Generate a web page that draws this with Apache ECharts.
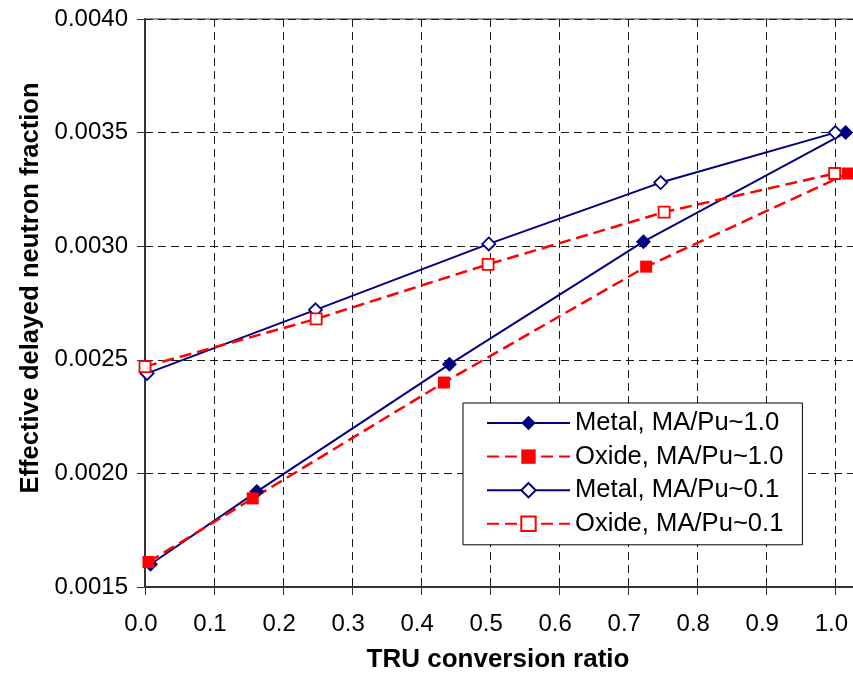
<!DOCTYPE html>
<html>
<head>
<meta charset="utf-8">
<script src="https://cdn.jsdelivr.net/npm/echarts@6/dist/echarts.min.js"></script>
<style>
html,body{margin:0;padding:0;background:#fff;}
#chart{width:853px;height:678px;}
</style>
</head>
<body>
<div id="chart"></div>
<script>
// Data
const seriesNames = ['Metal, MA/Pu~1.0', 'Oxide, MA/Pu~1.0', 'Metal, MA/Pu~0.1', 'Oxide, MA/Pu~0.1'];
const metalHigh = [[0.008, 0.00160], [0.162, 0.00192], [0.441, 0.00248], [0.722, 0.00302], [1.015, 0.00350]];
const oxideHigh = [[0.005, 0.00161], [0.156, 0.00189], [0.433, 0.00240], [0.726, 0.00291], [1.018, 0.00332]];
const metalLow  = [[0.003, 0.00244], [0.247, 0.00272], [0.498, 0.00301], [0.747, 0.00328], [1.000, 0.00350]];
const oxideLow  = [[0.000, 0.00247], [0.248, 0.00268], [0.497, 0.00292], [0.752, 0.00315], [0.999, 0.00332]];
const xTickLabels = ['0.0','0.1','0.2','0.3','0.4','0.5','0.6','0.7','0.8','0.9','1.0'];
const yTickLabels = ['0.0015','0.0020','0.0025','0.0030','0.0035','0.0040'];

const NAVY = '#000080', RED = '#FF0000';
const regFont = "'Liberation Sans', Arial, sans-serif";
const boldFont = "'Liberation Sans', Arial, sans-serif";

const chart = echarts.init(document.getElementById('chart'), null, {renderer: 'canvas'});

function mkSeries(name, data, color, symbol, filled, dashed, size) {
  return {
    name: name, type: 'line', data: data,
    symbol: symbol, symbolSize: size, showAllSymbol: true,
    lineStyle: {color: color, width: dashed ? 2.5 : 2, type: dashed ? [12, 6] : 'solid'},
    itemStyle: {color: filled ? color : '#fff', borderColor: color, borderWidth: filled ? 0 : 1.8},
    emphasis: {disabled: true},
    z: 3
  };
}

const gridLine = {show: true, lineStyle: {color: '#1a1a1a', width: 1, type: [8, 5]}};

chart.setOption({
  animation: false,
  backgroundColor: '#fff',
  grid: {left: 145, top: 19, width: 716, bottom: 91, outerBoundsMode: 'none', containLabel: false,
         show: true, borderColor: '#999', borderWidth: 2, backgroundColor: 'transparent'},
  xAxis: {
    type: 'value', min: 0, max: 1.0372, interval: 0.1,
    name: 'TRU conversion ratio', nameLocation: 'middle', nameGap: 60,
    nameTextStyle: {fontFamily: boldFont, fontWeight: 'bold', fontSize: 26, color: '#000', padding: [0, 10, 0, 0]},
    axisLine: {show: true, lineStyle: {color: '#333', width: 2}},
    axisTick: {show: true, length: 8, lineStyle: {color: '#333', width: 1}},
    axisLabel: {
      fontFamily: regFont, fontSize: 24, color: '#000', margin: 25, padding: [0, 8, 0, 0],
      showMaxLabel: false,
      formatter: function (v) { const i = Math.round(v * 10); return (Math.abs(v * 10 - i) < 1e-6 && i < xTickLabels.length) ? xTickLabels[i] : ''; }
    },
    splitLine: gridLine
  },
  yAxis: {
    type: 'value', min: 0.0015, max: 0.004, interval: 0.0005,
    name: 'Effective delayed neutron fraction', nameLocation: 'middle', nameGap: 101, nameRotate: 90,
    nameTextStyle: {fontFamily: boldFont, fontWeight: 'bold', fontSize: 25.5, color: '#000', padding: [0, 0, 0, 30]},
    axisLine: {show: true, lineStyle: {color: '#333', width: 2}},
    axisTick: {show: true, length: 8, lineStyle: {color: '#333', width: 1}},
    axisLabel: {
      fontFamily: regFont, fontSize: 24, color: '#000', margin: 17,
      formatter: function (v) { const i = Math.round((v - 0.0015) / 0.0005); return yTickLabels[i] || ''; }
    },
    splitLine: gridLine
  },
  legend: {
    orient: 'vertical', left: 463, top: 403,
    padding: [7, 19, 8, 23],
    backgroundColor: '#fff', borderColor: '#000', borderWidth: 1,
    itemWidth: 83, itemHeight: 18, itemGap: 7.6,
    textStyle: {fontFamily: regFont, fontSize: 25.6, color: '#000', lineHeight: 26},
    data: seriesNames
  },
  series: [
    mkSeries(seriesNames[0], metalHigh, NAVY, 'diamond', true, false, 15),
    mkSeries(seriesNames[1], oxideHigh, RED, 'rect', true, true, 12),
    mkSeries(seriesNames[2], metalLow, NAVY, 'diamond', false, false, 13),
    mkSeries(seriesNames[3], oxideLow, RED, 'rect', false, true, 11)
  ]
});
</script>
</body>
</html>
